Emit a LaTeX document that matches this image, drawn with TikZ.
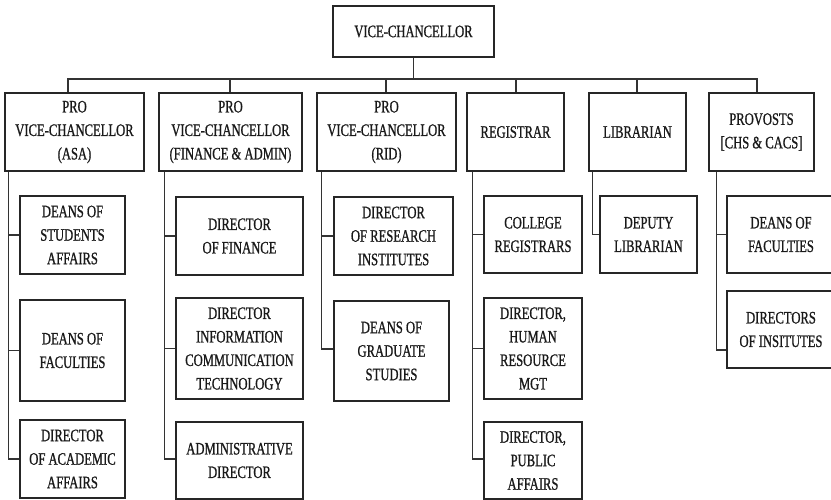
\documentclass[tikz,border=0pt]{standalone}
\usepackage{fontspec}
\setmainfont[FakeStretch=0.72,FakeBold=0.9]{Liberation Serif}
\begin{document}
\begin{tikzpicture}[x=1pt,y=-1pt,
  box/.style={draw=black!85, line width=1.2pt, inner sep=0pt, align=center,
    font=\fontsize{17.5}{23.5}\selectfont, text=black!90},
  conn/.style={draw=black!80, line width=1.2pt}]
\useasboundingbox (0,0) rectangle (831,500);
\clip (0,0) rectangle (831,500);
% top
\node[box, minimum width=161, minimum height=51] (vc) at (413.5,31.5) {VICE-CHANCELLOR};
\node[box, minimum width=139, minimum height=78] (asa) at (74.5,132) {PRO\\VICE-CHANCELLOR\\(ASA)};
\node[box, minimum width=143, minimum height=78] (fin) at (230.5,132) {PRO\\VICE-CHANCELLOR\\(FINANCE \& ADMIN)};
\node[box, minimum width=139, minimum height=78] (rid) at (386.5,132) {PRO\\VICE-CHANCELLOR\\(RID)};
\node[box, minimum width=97, minimum height=78] (reg) at (515.5,132) {REGISTRAR};
\node[box, minimum width=97, minimum height=78] (lib) at (637.5,132) {LIBRARIAN};
\node[box, minimum width=105, minimum height=78] (prov) at (761.5,132) {PROVOSTS\\{[}CHS \& CACS{]}};
% ASA children
\node[box, minimum width=105, minimum height=78] (a1) at (72.5,235) {DEANS OF\\STUDENTS\\AFFAIRS};
\node[box, minimum width=105, minimum height=101] (a2) at (72.5,350.5) {DEANS OF\\FACULTIES};
\node[box, minimum width=105, minimum height=78] (a3) at (72.5,459) {DIRECTOR\\OF ACADEMIC\\AFFAIRS};
% FIN children
\node[box, minimum width=127, minimum height=78] (f1) at (239.5,236) {DIRECTOR\\OF FINANCE};
\node[box, minimum width=127, minimum height=101] (f2) at (239.5,348.5) {DIRECTOR\\INFORMATION\\COMMUNICATION\\TECHNOLOGY};
\node[box, minimum width=127, minimum height=77] (f3) at (239.5,460.5) {ADMINISTRATIVE\\DIRECTOR};
% RID children
\node[box, minimum width=119, minimum height=78] (r1) at (393.5,236) {DIRECTOR\\OF RESEARCH\\INSTITUTES};
\node[box, minimum width=115, minimum height=100] (r2) at (391.5,351) {DEANS OF\\GRADUATE\\STUDIES};
% REG children
\node[box, minimum width=98, minimum height=77] (g1) at (533,234.5) {COLLEGE\\REGISTRARS};
\node[box, minimum width=98, minimum height=101] (g2) at (533,348.5) {DIRECTOR,\\HUMAN\\RESOURCE\\MGT};
\node[box, minimum width=98, minimum height=77] (g3) at (533,460.5) {DIRECTOR,\\PUBLIC\\AFFAIRS};
% LIB child
\node[box, minimum width=97, minimum height=77] (l1) at (648.5,234.5) {DEPUTY\\LIBRARIAN};
% PROV children
\node[box, minimum width=108, minimum height=77] (p1) at (781,234.5) {DEANS OF\\FACULTIES};
\node[box, minimum width=108, minimum height=77] (p2) at (781,329.5) {DIRECTORS\\OF INSITUTES};
% bus
\coordinate (busc) at (413.5,79);
\draw[conn] (vc.south) -- (busc);
\draw[conn] ([xshift=-6.5pt]asa.north) |- (busc);
\draw[conn] ([xshift=-4.5pt]prov.north) |- (busc);
\draw[conn] ([xshift=-0.5pt]fin.north) -- ++(0,-14);
\draw[conn] ([xshift=-0.5pt]rid.north) -- ++(0,-14);
\draw[conn] ([xshift=0.5pt]reg.north) -- ++(0,-14);
\draw[conn] ([xshift=-0.5pt]lib.north) -- ++(0,-14);
% spines
\draw[conn] ([xshift=4pt]asa.south west) |- (a3.west);
\draw[conn] ([xshift=4pt]asa.south west) |- (a1.west);
\draw[conn] ([xshift=4pt]asa.south west) |- (a2.west);
\draw[conn] ([xshift=6pt]fin.south west) |- ([yshift=1.5pt]f3.west);
\draw[conn] ([xshift=6pt]fin.south west) |- (f1.west);
\draw[conn] ([xshift=6pt]fin.south west) |- (f2.west);
\draw[conn] ([xshift=5pt]rid.south west) |- ([yshift=2pt]r2.west);
\draw[conn] ([xshift=5pt]rid.south west) |- (r1.west);
\draw[conn] ([xshift=6pt]reg.south west) |- ([yshift=1.5pt]g3.west);
\draw[conn] ([xshift=6pt]reg.south west) |- (g1.west);
\draw[conn] ([xshift=6pt]reg.south west) |- (g2.west);
\draw[conn] ([xshift=4pt]lib.south west) |- (l1.west);
\draw[conn] ([xshift=8pt]prov.south west) |- ([yshift=-20.5pt]p2.west);
\draw[conn] ([xshift=8pt]prov.south west) |- (p1.west);
\end{tikzpicture}
\end{document}
